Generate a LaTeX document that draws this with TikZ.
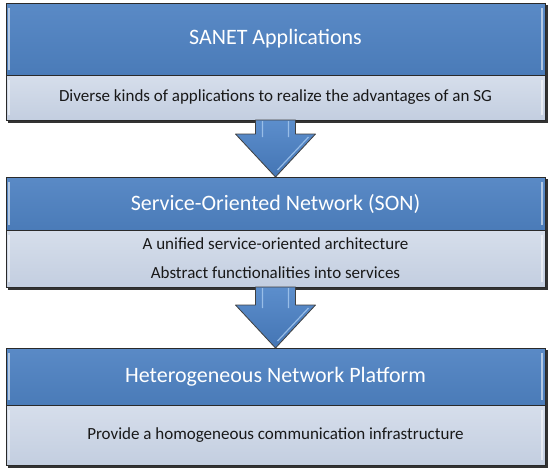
\documentclass[tikz,border=0pt]{standalone}
\usepackage{fontspec}
\setmainfont{Carlito}
\usetikzlibrary{positioning,calc,backgrounds}

\definecolor{hdblue}{HTML}{4A7BB8}
\definecolor{hdtop}{HTML}{5A8AC6}
\definecolor{bdtop}{HTML}{D6DEEB}
\definecolor{bdbot}{HTML}{C3CEE0}
\definecolor{edgegray}{HTML}{2A2A2A}
\definecolor{arrtop}{HTML}{5C8ECC}
\definecolor{arrbot}{HTML}{4475B4}
\definecolor{arrlight}{HTML}{A9CBF0}

\tikzset{
  bevel/.style={path picture={
    \draw[white, opacity=0.55, line width=1.6pt]
      ([xshift=3pt,yshift=-5pt]path picture bounding box.north west) --
      ([xshift=3pt,yshift=5pt]path picture bounding box.south west)
      ([xshift=-3pt,yshift=-5pt]path picture bounding box.north east) --
      ([xshift=-3pt,yshift=5pt]path picture bounding box.south east);}},
  layerhead/.style={rectangle, minimum width=539pt, inner sep=0pt, outer sep=0pt,
    top color=hdtop, bottom color=hdblue, draw=edgegray, line width=0.8pt,
    text=white, font=\fontsize{22}{26}\selectfont, bevel},
  layerbody/.style={rectangle, minimum width=539pt, inner sep=0pt, outer sep=0pt,
    top color=bdtop, bottom color=bdbot, draw=edgegray, line width=0.8pt,
    text=black!90, align=center, font=\fontsize{17}{29}\selectfont, bevel},
  layerarrow/.style={draw=black!75, line width=0.8pt, line join=round,
    top color=arrtop, bottom color=arrbot},
  arrowshine/.style={arrlight, line width=1.2pt, opacity=0.8},
}

% drop shadow under one layer
\newcommand{\layershadow}[2]{%
  \fill[black!80] ([xshift=2pt,yshift=-2pt]#1.north west)
    rectangle ([xshift=2.5pt,yshift=-3pt]#2.south east);}

% block arrow from one layer down to the next
\newcommand{\layerarrow}[2]{%
  \draw[layerarrow] let \p1=(#1.south), \p2=(#2.north) in
    (\x1-20pt,\y1) -- (\x1+20pt,\y1) -- (\x1+20pt,\y2+43pt) -- (\x1+40pt,\y2+43pt)
    -- (\x1,\y2) -- (\x1-40pt,\y2+43pt) -- (\x1-20pt,\y2+43pt) -- cycle;
  \draw[arrowshine] let \p1=(#1.south), \p2=(#2.north) in
    (\x1-13pt,\y1-1pt) -- (\x1-13pt,\y2+40pt)
    (\x1+13pt,\y1-1pt) -- (\x1+13pt,\y2+40pt)
    (\x1+33pt,\y2+40pt) -- (\x1+2pt,\y2+7pt);}

\begin{document}
\begin{tikzpicture}[x=1pt,y=1pt]
  \useasboundingbox (0,0) rectangle (548,-467);

  % application layer
  \node[layerhead, minimum height=72pt] (hd1) at (275.5,-39) {SANET Applications};
  \node[layerbody, minimum height=45pt, below=0pt of hd1] (bd1)
    {Diverse kinds of applications to realize the advantages of an SG};

  % service layer
  \node[layerhead, minimum height=53pt, below=57pt of bd1] (hd2)
    {Service-Oriented Network (SON)};
  \node[layerbody, minimum height=57pt, below=0pt of hd2] (bd2)
    {A unified service-oriented architecture\\Abstract functionalities into services};

  % network layer
  \node[layerhead, minimum height=57pt, below=61pt of bd2] (hd3)
    {Heterogeneous Network Platform};
  \node[layerbody, minimum height=60pt, below=0pt of hd3] (bd3)
    {Provide a homogeneous communication infrastructure};

  \begin{scope}[on background layer]
    \layershadow{hd1}{bd1}
    \layershadow{hd2}{bd2}
    \layershadow{hd3}{bd3}
  \end{scope}

  \layerarrow{bd1}{hd2}
  \layerarrow{bd2}{hd3}
\end{tikzpicture}
\end{document}
